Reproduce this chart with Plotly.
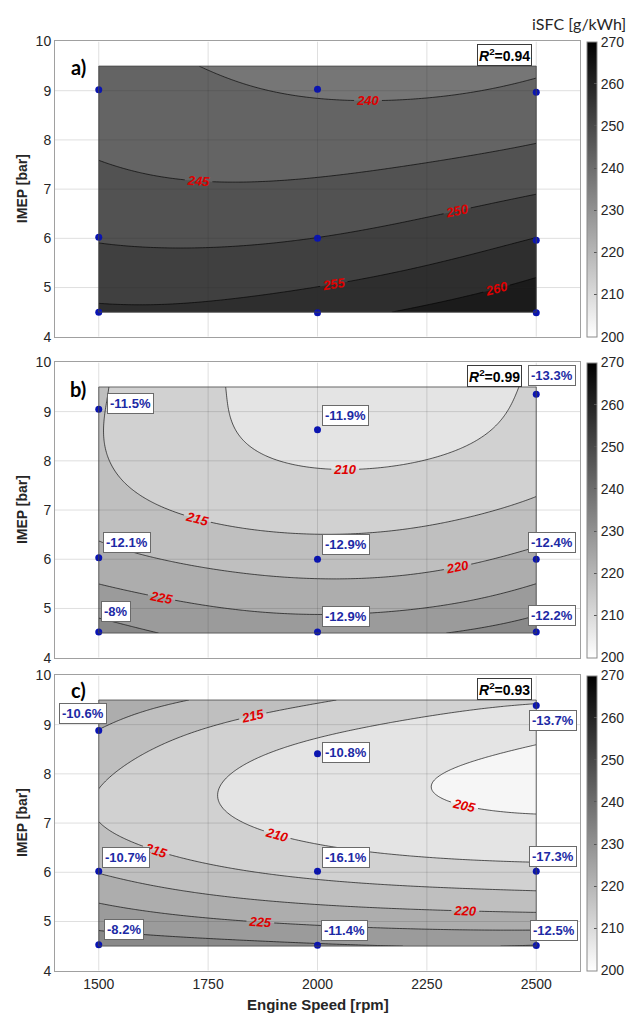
import numpy as np
import plotly.graph_objects as go

# ---------------- data ----------------
speed_grid = [1500, 1750, 2000, 2250, 2500]                     # rpm
imep_grid = [4.5, 5.0, 5.5, 6.0, 6.5, 7.0, 7.5, 8.0, 8.5, 9.0, 9.5]  # bar

# iSFC [g/kWh] response values, rows follow imep_grid, columns follow speed_grid
isfc_a = [
    [255.8, 256.2, 257.8, 261.2, 264.3],
    [253.6, 253.7, 255.1, 257.7, 261.3],
    [251.5, 251.4, 252.4, 254.6, 258.2],
    [249.6, 249.2, 250.0, 252.2, 255.0],
    [248.0, 247.4, 247.8, 249.9, 252.2],
    [246.6, 245.5, 245.8, 247.4, 249.4],
    [245.2, 244.0, 244.0, 245.0, 247.0],
    [244.0, 242.7, 242.4, 243.1, 244.7],
    [243.0, 241.6, 240.9, 241.3, 242.7],
    [242.2, 240.7, 239.5, 239.6, 240.8],
    [241.5, 240.0, 238.5, 238.4, 239.2],
]
isfc_b = [
    [232.4, 228.8, 227.8, 229.5, 232.8],
    [228.4, 225.4, 224.1, 225.5, 229.0],
    [225.0, 222.3, 220.4, 221.4, 225.0],
    [222.0, 219.0, 217.4, 218.5, 221.3],
    [219.3, 216.4, 214.6, 216.2, 218.6],
    [217.3, 214.3, 212.4, 214.0, 216.0],
    [216.2, 212.8, 210.6, 212.0, 214.2],
    [215.5, 211.8, 209.3, 210.2, 212.8],
    [215.2, 211.1, 208.3, 209.0, 211.8],
    [215.2, 210.7, 207.7, 208.2, 211.1],
    [215.5, 210.9, 207.5, 207.9, 210.7],
]
isfc_c = [
    [232.5, 231.8, 231.0, 230.0, 230.6],
    [228.6, 226.3, 223.6, 222.6, 222.0],
    [224.0, 220.5, 218.0, 217.4, 216.2],
    [219.4, 216.2, 213.8, 212.8, 211.8],
    [216.7, 213.2, 210.3, 208.8, 208.2],
    [215.1, 211.2, 208.0, 206.4, 205.8],
    [214.9, 210.4, 207.0, 205.2, 203.9],
    [215.9, 210.9, 207.3, 205.1, 203.5],
    [217.8, 212.6, 208.9, 206.5, 204.8],
    [220.3, 215.4, 211.5, 209.4, 207.3],
    [223.2, 219.6, 215.2, 212.6, 210.4],
]

# measured operating points
pts_speed = [1500, 1500, 1500, 2000, 2000, 2000, 2500, 2500, 2500]
pts_imep_a = [9.02, 6.02, 4.50, 9.03, 6.00, 4.49, 8.97, 5.96, 4.49]
pts_imep_b = [9.05, 6.03, 4.52, 8.63, 6.00, 4.52, 9.35, 6.00, 4.52]
pts_imep_c = [8.88, 6.02, 4.53, 8.41, 6.02, 4.52, 9.39, 6.02, 4.51]

# iSFC change at each operating point
delta_b = ["-11.5%", "-12.1%", "-8%", "-11.9%", "-12.9%", "-12.9%", "-13.3%", "-12.4%", "-12.2%"]
delta_c = ["-10.6%", "-10.7%", "-8.2%", "-10.8%", "-16.1%", "-11.4%", "-13.7%", "-17.3%", "-12.5%"]

r2_values = ["0.94", "0.99", "0.93"]
panel_tags = ["a)", "b)", "c)"]

x_ticks = [1500, 1750, 2000, 2250, 2500]
y_ticks = [4, 5, 6, 7, 8, 9, 10]
cbar_ticks = [200, 210, 220, 230, 240, 250, 260, 270]

# ---------------- layout constants ----------------
W, H = 643, 1024
X_LEFT, X_RIGHT = 55, 580
PANEL_TOPS = [34, 360, 678]
PANEL_H = 300
TAG_DY = [26, 27, 15]

# label offsets (pixels) for the percentage boxes
shift_b = [(31.5, 5.7), (28.7, 15), (17, 21), (28, 14.7), (28, 15), (28, 16),
           (16, 19), (16, 17), (16, 17)]
shift_c = [(-15.5, 17), (27.5, 14), (25, 15), (28, 1), (28, 13.5), (27, 15),
           (17, -15.5), (17, 15), (17.5, 14.7)]

TXT = "#262626"
GRAY_SCALE = [[0.0, "rgb(255,255,255)"], [1.0, "rgb(0,0,0)"]]
TICK_FONT = dict(family="Liberation Sans, Arial", size=14, color=TXT)


def smooth_surface(z_rows, nx=161, ny=121):
    """Least-squares polynomial response surface through the gridded values."""
    xs = np.asarray(speed_grid, float)
    ys = np.asarray(imep_grid, float)
    Z = np.asarray(z_rows, float)
    X, Y = np.meshgrid(xs, ys)
    u = (X.ravel() - 2000.0) / 500.0
    v = (Y.ravel() - 7.0) / 2.5
    terms = [(i, j) for i in range(4) for j in range(5)]
    A = np.column_stack([u ** i * v ** j for i, j in terms])
    coef, *_ = np.linalg.lstsq(A, Z.ravel(), rcond=None)
    xf = np.linspace(xs.min(), xs.max(), nx)
    yf = np.linspace(ys.min(), ys.max(), ny)
    XF, YF = np.meshgrid(xf, yf)
    uf = (XF - 2000.0) / 500.0
    vf = (YF - 7.0) / 2.5
    ZF = sum(c * uf ** i * vf ** j for c, (i, j) in zip(coef, terms))
    return xf, yf, ZF


def pyp(y_px):
    return 1 - y_px / H


def pxp(x_px):
    return x_px / W


fig = go.Figure()
surfaces = [isfc_a, isfc_b, isfc_c]
points = [pts_imep_a, pts_imep_b, pts_imep_c]
deltas = [None, delta_b, delta_c]
shifts = [None, shift_b, shift_c]

annotations = []
shapes = []
layout_axes = {}

for k in range(3):
    sfx = "" if k == 0 else str(k + 1)
    xa, ya = "x" + sfx, "y" + sfx
    top = PANEL_TOPS[k]
    bottom = top + PANEL_H
    ydom = [pyp(bottom), pyp(top)]

    xf, yf, zf = smooth_surface(surfaces[k])
    fig.add_trace(go.Contour(
        x=xf, y=yf, z=zf, xaxis=xa, yaxis=ya,
        colorscale=GRAY_SCALE, zmin=200, zmax=270, zauto=False,
        showscale=False, hoverinfo="skip",
        contours=dict(start=200, end=270, size=5, coloring="fill",
                      showlabels=True,
                      labelfont=dict(family="Liberation Sans, Arial", size=13,
                                     color="#e00000", weight="bold", style="italic")),
        line=dict(color="rgba(0,0,0,0.8)", width=0.8, smoothing=1.0),
    ))

    # continuous colour bar for the panel
    fig.add_trace(go.Scatter(
        x=[1500], y=[4.5], xaxis=xa, yaxis=ya, mode="markers",
        hoverinfo="skip", showlegend=False,
        marker=dict(size=1, opacity=0, color=[200], cmin=200, cmax=270,
                    colorscale=GRAY_SCALE, showscale=True,
                    colorbar=dict(x=pxp(587), xanchor="left", y=(ydom[0] + ydom[1]) / 2,
                                  yanchor="middle", len=PANEL_H / H, lenmode="fraction",
                                  thickness=10, thicknessmode="pixels",
                                  outlinecolor="#8a8a8a", outlinewidth=1,
                                  tickvals=cbar_ticks, ticks="inside", ticklen=3,
                                  tickcolor="#555555", tickfont=TICK_FONT,
                                  xpad=0, ypad=0)),
    ))

    fig.add_trace(go.Scatter(
        x=pts_speed, y=points[k], xaxis=xa, yaxis=ya, mode="markers",
        marker=dict(size=7, color="#0a14b4"), hoverinfo="skip", showlegend=False,
    ))

    layout_axes["xaxis" + sfx] = dict(
        domain=[pxp(X_LEFT), pxp(X_RIGHT)], range=[1400, 2600], anchor=ya,
        tickvals=x_ticks, showticklabels=(k == 2), tickfont=TICK_FONT,
        showgrid=False, zeroline=False, showline=True, mirror=True,
        linecolor="#a0a0a0", linewidth=1, ticks="",
    )
    layout_axes["yaxis" + sfx] = dict(
        domain=ydom, range=[4, 10], anchor=xa, tickvals=y_ticks,
        tickfont=TICK_FONT, showgrid=False, zeroline=False, showline=True,
        mirror=True, linecolor="#a0a0a0", linewidth=1, ticks="",
    )

    # grid drawn over the filled contours
    for xv in x_ticks:
        shapes.append(dict(type="line", xref=xa, yref=ya, x0=xv, x1=xv, y0=y_ticks[0],
                           y1=y_ticks[-1], layer="above",
                           line=dict(color="rgba(38,38,38,0.15)", width=1)))
    for yv in y_ticks[1:-1]:
        shapes.append(dict(type="line", xref=xa, yref=ya, x0=1400, x1=2600, y0=yv, y1=yv,
                           layer="above", line=dict(color="rgba(38,38,38,0.15)", width=1)))
    # outline of the response-surface region
    shapes.append(dict(type="rect", xref=xa, yref=ya, x0=min(speed_grid), x1=max(speed_grid),
                       y0=min(imep_grid), y1=max(imep_grid), layer="above",
                       line=dict(color="rgba(70,70,70,0.8)", width=1)))

    # panel tag
    annotations.append(dict(text="<b>" + panel_tags[k] + "</b>", xref="paper", yref="paper",
                            x=pxp(78), y=pyp(top + TAG_DY[k]), xanchor="center",
                            yanchor="middle", showarrow=False,
                            font=dict(family="Lato", size=20, color="black")))
    # R² box
    r2x = 504 if k != 1 else 494.5
    annotations.append(dict(text="<b><i>R</i><sup>2</sup>=" + r2_values[k] + "</b>",
                            xref="paper", yref="paper", x=pxp(r2x), y=pyp(top + 13.5),
                            xanchor="center", yanchor="middle", showarrow=False,
                            font=dict(family="Liberation Sans, Arial", size=14, color="black"),
                            bgcolor="white", bordercolor="#3a3a3a", borderwidth=1, borderpad=1))
    # y title
    annotations.append(dict(text="<b>IMEP [bar]</b>", xref="paper", yref="paper",
                            x=pxp(22), y=(ydom[0] + ydom[1]) / 2, textangle=-90,
                            xanchor="center", yanchor="middle", showarrow=False,
                            font=dict(family="Liberation Sans, Arial", size=14, color=TXT)))

    if deltas[k] is not None:
        for sx, sy, txt, (dx, dy) in zip(pts_speed, points[k], deltas[k], shifts[k]):
            annotations.append(dict(text="<b>" + txt + "</b>", xref=xa, yref=ya, x=sx, y=sy,
                                    xshift=dx, yshift=dy, xanchor="center", yanchor="middle",
                                    showarrow=False,
                                    font=dict(family="Liberation Sans, Arial", size=13,
                                              color="#1c2aa5"),
                                    bgcolor="white", bordercolor="#6a6a6a", borderwidth=1,
                                    borderpad=2))

annotations.append(dict(text="<b>Engine Speed [rpm]</b>", xref="paper", yref="paper",
                        x=pxp(318), y=pyp(1012), xanchor="center", yanchor="middle",
                        showarrow=False,
                        font=dict(family="Liberation Sans, Arial", size=15, color=TXT)))
annotations.append(dict(text="iSFC [g/kWh]", xref="paper", yref="paper",
                        x=pxp(579), y=pyp(16), xanchor="center", yanchor="middle",
                        showarrow=False, font=dict(family="Lato", size=16, color=TXT)))

fig.update_layout(
    width=W, height=H, margin=dict(l=0, r=0, t=0, b=0),
    paper_bgcolor="white", plot_bgcolor="white", showlegend=False,
    annotations=annotations, shapes=shapes, **layout_axes,
)

fig.write_html("out.html")
